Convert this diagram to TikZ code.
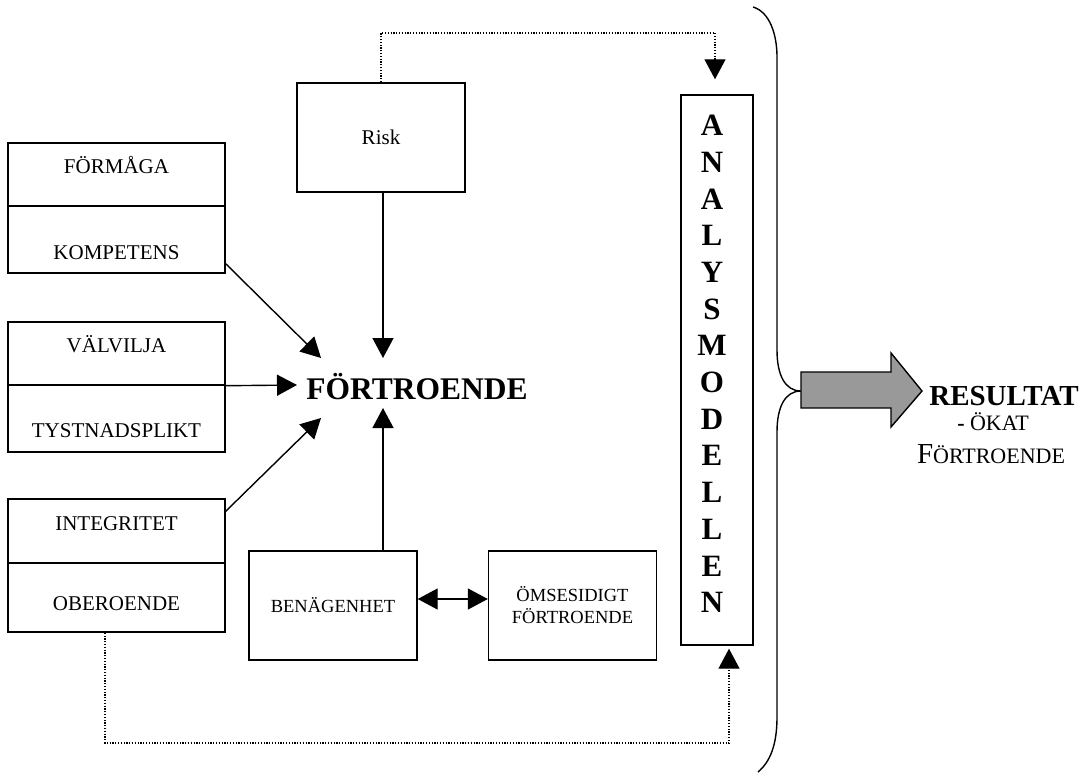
\documentclass[tikz,border=0pt]{standalone}
\usepackage{fontspec}
\setmainfont{Liberation Serif}
\usetikzlibrary{arrows.meta,calc}
\definecolor{arrgray}{gray}{0.6}
\begin{document}
\begin{tikzpicture}[x=1pt,y=-1pt,
  half/.style={draw,line width=1.4pt,minimum width=217pt,inner sep=0pt},
  cbox/.style={draw,line width=1.4pt,minimum width=168pt,minimum height=109pt,inner sep=0pt,align=center},
  lbl/.style={anchor=base,inner sep=0pt,font=\fontsize{21}{24}\selectfont},
  midlbl/.style={font=\fontsize{18.5}{22}\selectfont},
  arr/.style={line width=1.4pt,-{Triangle[length=20pt,width=21pt]}},
  dbl/.style={line width=1.4pt,{Triangle[length=20pt,width=21pt]}-{Triangle[length=20pt,width=21pt]}},
  dotl/.style={line width=1.3pt,dash pattern=on 1.2pt off 1.6pt,-{Triangle[length=20pt,width=21pt]}}
]
\useasboundingbox (0,0) rectangle (1086,773);

% left split boxes
\node[half,minimum height=63pt] (formaga) at (116.5,174.5) {};
\node[lbl] (tformaga) at (116.5,173) {FÖRMÅGA};
\node[half,minimum height=67pt] (kompetens) at (116.5,239.5) {};
\node[lbl] (tkompetens) at (116.5,259) {KOMPETENS};
\node[half,minimum height=63pt] (valvilja) at (116.5,353.5) {};
\node[lbl] (tvalvilja) at (116.5,352) {VÄLVILJA};
\node[half,minimum height=67pt] (tystnad) at (116.5,418.5) {};
\node[lbl] (ttystnad) at (116.5,437) {TYSTNADSPLIKT};
\node[half,minimum height=64pt] (integritet) at (116.5,531) {};
\node[lbl] (tintegritet) at (116.5,530) {INTEGRITET};
\node[half,minimum height=69pt] (oberoende) at (116.5,597.5) {};
\node[lbl] (toberoende) at (116.5,610) {OBEROENDE};

% middle boxes
\node[cbox,font=\fontsize{21}{24}\selectfont] (risk) at (381,137.5) {Risk};
\node[cbox,midlbl] (ben) at (333,605.5) {BENÄGENHET};
\node[cbox,midlbl] (oms) at (572.5,605.5) {ÖMSESIDIGT\\FÖRTROENDE};

% central label
\node[anchor=base,inner sep=0pt,font=\fontsize{31.5}{36}\bfseries] (fort) at (417,399) {FÖRTROENDE};

% analysmodellen
\node[draw,line width=1.4pt,minimum width=72pt,minimum height=550pt,inner sep=0pt] (analys) at (717,370) {};
\node[inner sep=0pt,align=center,font=\fontsize{31}{36.7}\bfseries] (analystext) at (712,364)
  {A\\N\\A\\L\\Y\\S\\M\\O\\D\\E\\L\\L\\E\\N};

% tips
\coordinate (tipK) at ($(fort.base)+(-96,-41)$);
\coordinate (tipI) at ($(fort.base)+(-96,19)$);
\coordinate (tipV) at ($(fort.base)+(-120,-14)$);
\coordinate (tipR) at ($(fort.base)+(-34,-41)$);
\coordinate (tipB) at ($(fort.base)+(-34,9)$);

\draw[arr] ($(kompetens.south east)+(0,-10)$) -- (tipK);
\draw[arr] (valvilja.south east) -- (tipV);
\draw[arr] ($(integritet.north east)+(0,13)$) -- (tipI);
\draw[arr] (risk.south -| tipR) -- (tipR);
\draw[arr] (ben.north -| tipB) -- (tipB);
\draw[dbl] ($(ben.east)+(0,-6.5)$) -- ($(oms.west)+(0,-6.5)$);

% dotted connectors
\coordinate (topd) at (715,33);
\draw[dotl] (risk.north) |- (topd) -- ($(analys.north -| topd)+(0,-15)$);
\coordinate (botL) at (105,743);
\coordinate (botR) at (729,743);
\draw[dotl] (oberoende.south -| botL) -- (botL) -- (botR) -- ($(analys.south -| botR)+(0,3)$);

% brace
\draw[line width=1.4pt] (753,7) .. controls (770,12) and (777,35) .. (777,57) -- (777,350)
  .. controls (777,375) and (785,391) .. (801,391)
  .. controls (785,391) and (777,407) .. (777,432) -- (777,717)
  .. controls (777,745) and (770,762) .. (758,772);

% big arrow
\draw[line width=1.4pt,fill=arrgray,line join=miter] (801,372) -- (891,372) -- (891,353) -- (922,391)
  -- (891,427) -- (891,408) -- (801,408) -- cycle;

% result text
\node[anchor=base,inner sep=0pt,font=\fontsize{29}{34}\bfseries] (res) at (1004,405) {RESULTAT};
\node[anchor=base,inner sep=0pt,font=\fontsize{22}{24}\selectfont] (okat) at (993,430) {{\bfseries -} ÖKAT};
\node[anchor=base,inner sep=0pt,font=\fontsize{22}{24}\selectfont] (okat2) at (991,463) {{\fontsize{29}{30}\selectfont F}ÖRTROENDE};
\end{tikzpicture}
\end{document}
